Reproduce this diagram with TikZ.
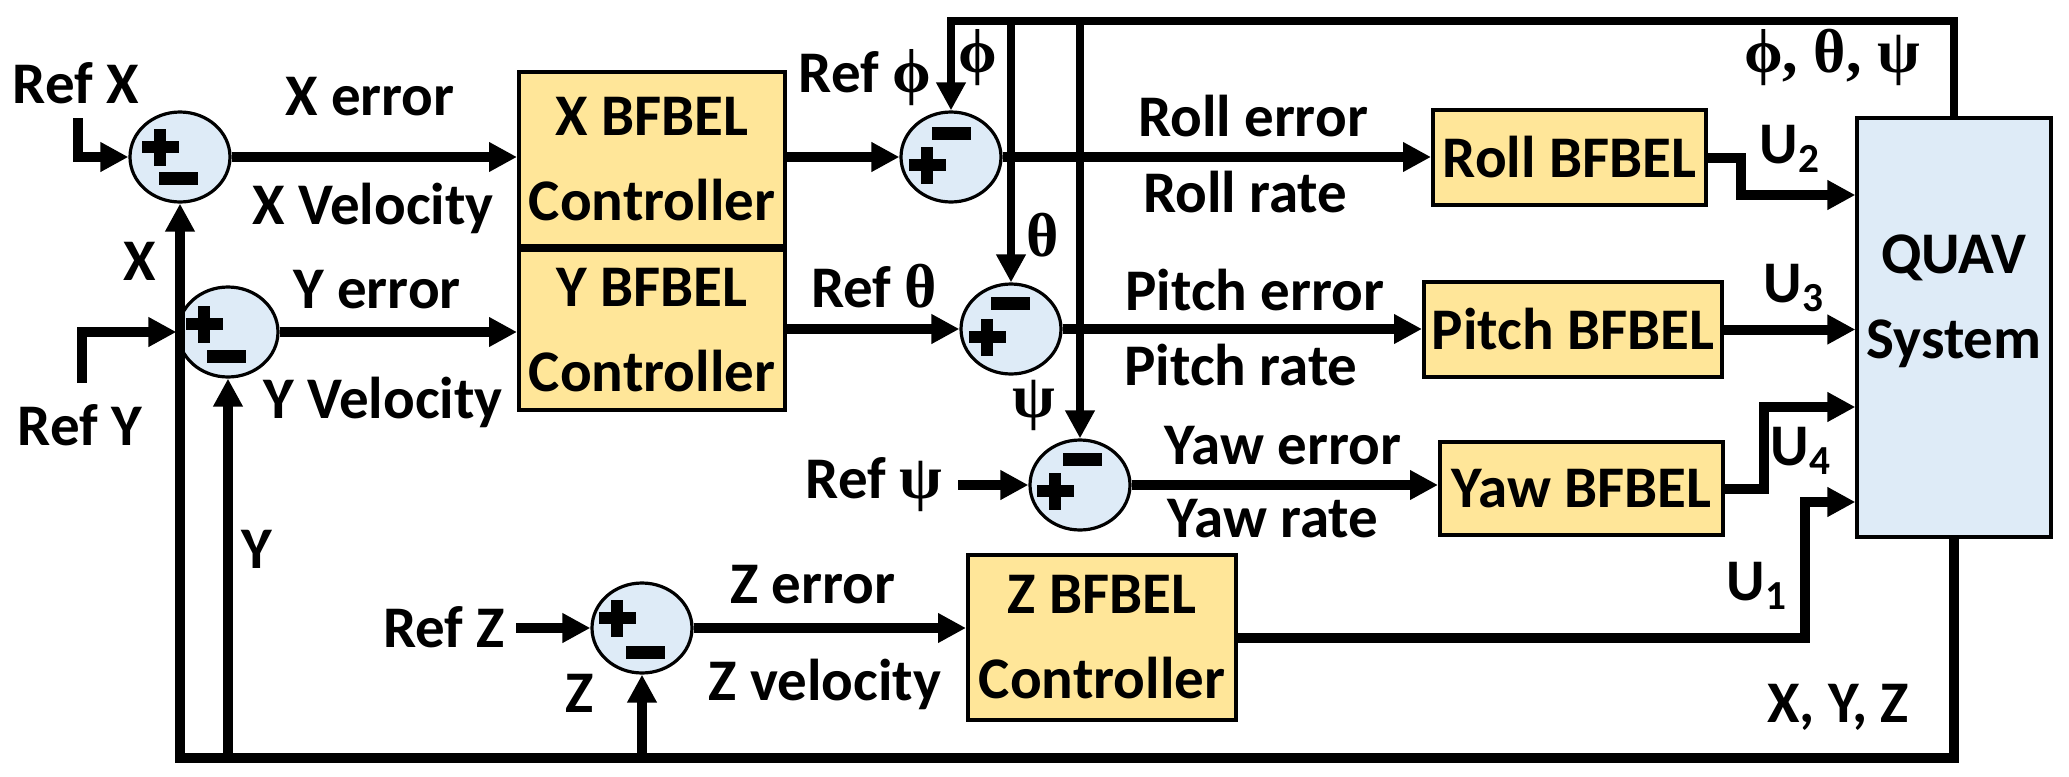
\documentclass[tikz,border=0pt]{standalone}
\usepackage{fontspec}
\setmainfont{Carlito}
\newfontfamily\grk{Liberation Serif}
\usetikzlibrary{arrows.meta,shapes.geometric}
\definecolor{boxY}{HTML}{FFE699}
\definecolor{sumB}{HTML}{DEEBF7}
\newcommand\PlusAt[2]{\fill (#1-18.5,#2-6) rectangle (#1+18.5,#2+6); \fill (#1-6,#2-18.5) rectangle (#1+6,#2+18.5);}
\newcommand\MinusAt[2]{\fill (#1-19.5,#2-6.5) rectangle (#1+19.5,#2+6.5);}
\newcommand\GrkTxt[1]{{\fontsize{31}{36}\selectfont\grk\bfseries #1}}
\begin{document}
\begin{tikzpicture}[x=0.5pt,y=-0.5pt,
 every node/.style={font=\fontsize{29.5}{42.5}\selectfont\bfseries, inner sep=0pt},
 lbl/.style={anchor=base},
 sig/.style={line width=5pt},
 fb/.style={line width=4pt},
 arr/.style={-{Triangle[length=14pt,width=14pt]}},
 ctrl/.style={draw, line width=2pt, fill=boxY, align=center},
 sumn/.style={ellipse, draw, line width=1.6pt, fill=sumB, minimum width=50pt, minimum height=45pt},
]
\useasboundingbox (0,0) rectangle (2069,777);

% summing junctions
\node[sumn] (s1) at (180,157) {};
\node[sumn] (s2) at (228,332) {};
\node[sumn] (sr) at (951,157) {};
\node[sumn] (sp) at (1011,329) {};
\node[sumn] (sy) at (1080,485) {};
\node[sumn] (s3) at (642,628) {};

% blocks
\node[ctrl, minimum width=133pt, minimum height=87pt] (xb) at (652,159) {X BFBEL\\Controller};
\node[ctrl, minimum width=133pt, minimum height=80pt] (yb) at (652,330) {Y BFBEL\\Controller};
\node[ctrl, minimum width=136.5pt, minimum height=47.5pt] (roll) at (1569.5,157.5) {Roll BFBEL};
\node[ctrl, minimum width=149pt, minimum height=47.5pt] (pitch) at (1573,329.5) {Pitch BFBEL};
\node[ctrl, minimum width=141.5pt, minimum height=46.5pt] (yaw) at (1581.5,488.5) {Yaw BFBEL};
\node[ctrl, minimum width=134pt, minimum height=82.5pt] (zb) at (1102,637.5) {Z BFBEL\\Controller};
\node[draw, line width=1.6pt, fill=sumB, minimum width=97pt, minimum height=209.5pt] (qv) at (1954,327.5) {};
\node[align=center] (qvt) at (1954,301) {QUAV\\System};

% signs
\begin{scope}[shift={(s1.center)}] \PlusAt{-20}{-10} \MinusAt{-2}{21} \end{scope}
\begin{scope}[shift={(s2.center)}] \PlusAt{-24}{-8} \MinusAt{-2}{24} \end{scope}
\begin{scope}[shift={(s3.center)}] \PlusAt{-25}{-10} \MinusAt{3}{24} \end{scope}
\begin{scope}[shift={(sr.center)}] \MinusAt{0}{-24} \PlusAt{-24}{8} \end{scope}
\begin{scope}[shift={(sp.center)}] \MinusAt{-1}{-26} \PlusAt{-24}{8} \end{scope}
\begin{scope}[shift={(sy.center)}] \MinusAt{2}{-26} \PlusAt{-25}{6} \end{scope}

% labels
\node[lbl] (lrefx) at (76,103) {Ref X};
\node[lbl] (lxerr) at (370,115) {X error};
\node[lbl] (lxvel) at (373,224) {X Velocity};
\node[lbl] (lx) at (140,280) {X};
\node[lbl] (lyerr) at (377,308) {Y error};
\node[lbl] (lyvel) at (383,418) {Y Velocity};
\node[lbl] (lrefy) at (80,445) {Ref Y};
\node[lbl] (ly) at (257,568) {Y};
\node[lbl] (lrefz) at (444,647) {Ref Z};
\node[lbl] (lz) at (580,712) {Z};
\node[lbl] (lzerr) at (813,603) {Z error};
\node[lbl] (lzvel) at (825,700) {Z velocity};
\node[lbl] (lrefphi) at (865,92) {Ref \GrkTxt{ϕ}};
\node[lbl] (lreftheta) at (874,307) {Ref \GrkTxt{θ}};
\node[lbl] (lrefpsi) at (874,498) {Ref \GrkTxt{ψ}};
\node (lphi) at (978,58) {\GrkTxt{ϕ}};
\node (ltheta) at (1043,235) {\GrkTxt{θ}};
\node (lpsi) at (1034,405) {\GrkTxt{ψ}};
\node (lang) at (1832,57) {\GrkTxt{ϕ, θ, ψ}};
\node[lbl] (lrerr) at (1253,136) {Roll error};
\node[lbl] (lrrate) at (1245,212) {Roll rate};
\node[lbl] (lperr) at (1255,310) {Pitch error};
\node[lbl] (lprate) at (1241,385) {Pitch rate};
\node[lbl] (lyaerr) at (1283,464) {Yaw error};
\node[lbl] (lyarate) at (1273,537) {Yaw rate};
\node[lbl] (lu2) at (1790,163) {U$_\mathbf{2}$};
\node[lbl] (lu3) at (1794,302) {U$_\mathbf{3}$};
\node[lbl] (lu4) at (1801,465) {U$_\mathbf{4}$};
\node[lbl] (lu1) at (1757,600) {U$_\mathbf{1}$};
\node[lbl] (lxyz) at (1838,722) {X, Y, Z};

% coordinates
\coordinate (rx) at (78,118);
\coordinate (ry) at (82,383);
\coordinate (rz) at (516,628);
\coordinate (rpsi) at (958,485);
\coordinate (topL) at (951,21);
\coordinate (botL) at (180,758);

% forward paths
\draw[sig,arr] (rx) |- (s1.west);
\draw[sig,arr] (ry) |- (s2.west);
\draw[sig,arr] (rz) -- (s3.west);
\draw[sig,arr] (rpsi) -- (sy.west);
\draw[sig,arr] (s1.east) -- (s1.east -| xb.west);
\draw[sig,arr] (s2.east) -- (s2.east -| yb.west);
\draw[sig,arr] (s3.east) -- (s3.east -| zb.west);
\draw[sig,arr] (sr.west -| xb.east) -- (sr.west);
\draw[sig,arr] (sp.west -| yb.east) -- (sp.west);
\draw[sig,arr] (sr.east) -- (sr.east -| roll.west);
\draw[sig,arr] (sp.east) -- (sp.east -| pitch.west);
\draw[sig,arr] (sy.east) -- (sy.east -| yaw.west);
\draw[sig,arr] (roll.east) -- ++(33,0) |- ([yshift=66.25pt]qv.west);
\draw[sig,arr] (pitch.east) -- (pitch.east -| qv.west);
\draw[sig,arr] (yaw.east) -- ++(39,0) |- ([yshift=-39.75pt]qv.west);
\draw[sig,arr] (zb.east) -- ++(567,0) |- ([yshift=-87.25pt]qv.west);

% attitude feedback
\draw[fb,arr] (qv.north) |- (topL) -- (sr.north);
\draw[fb,arr] (sp.north |- topL) -- (sp.north);
\draw[fb,arr] (sy.north |- topL) -- (sy.north);

% position feedback
\draw[sig,arr] (qv.south) |- (botL) -- (s1.south);
\draw[sig,arr] (s2.south |- botL) -- (s2.south);
\draw[sig,arr] (s3.south |- botL) -- (s3.south);
\end{tikzpicture}
\end{document}
